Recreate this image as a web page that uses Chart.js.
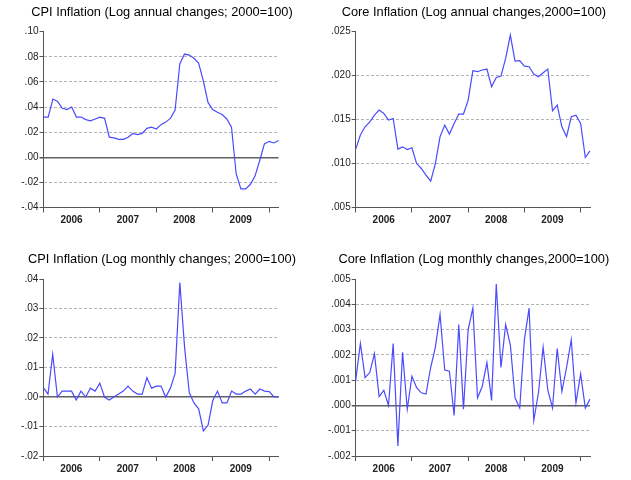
<!DOCTYPE html>
<html>
<head>
<meta charset="utf-8">
<script src="https://cdn.jsdelivr.net/npm/chart.js@4"></script>
<style>
  body { margin: 0; background: #fff; }
  #wrap { position: relative; width: 631px; height: 480px; overflow: hidden; }
  canvas { position: absolute; }
</style>
</head>
<body>
<div id="wrap">
  <canvas id="cpiAnnual" width="315" height="240" style="left:0;top:0"></canvas>
  <canvas id="coreAnnual" width="316" height="240" style="left:315px;top:0"></canvas>
  <canvas id="cpiMonthly" width="315" height="240" style="left:0;top:240px"></canvas>
  <canvas id="coreMonthly" width="316" height="240" style="left:315px;top:240px"></canvas>
</div>
<script>
// Monthly observations 2006M01 .. 2010M03
const months = [];
for (let y = 2006; y <= 2010; y++) {
    for (let m = 1; m <= 12; m++) {
        if (y === 2010 && m > 3) break;
        months.push(y + 'M' + String(m).padStart(2, '0'));
    }
}

// Series
const cpiAnnualValues = [
    0.032, 0.032, 0.0464, 0.0445, 0.039, 0.038, 0.040, 0.032, 0.032, 0.030, 0.029, 0.0305,
    0.032, 0.031, 0.016, 0.0154, 0.0143, 0.0143, 0.016, 0.019, 0.018, 0.019, 0.023, 0.024,
    0.0225, 0.026, 0.028, 0.031, 0.0376, 0.0743, 0.0822, 0.0814, 0.0788, 0.075, 0.061, 0.0437,
    0.038, 0.0358, 0.034, 0.0305, 0.0239, -0.0133, -0.0252, -0.0252, -0.0217, -0.015, -0.0026, 0.0106,
    0.0127, 0.0114, 0.0133
];
const coreAnnualValues = [
    0.01164, 0.01324, 0.01418, 0.01475, 0.01551, 0.01608, 0.0157, 0.01494, 0.01513, 0.01164, 0.0119, 0.0116,
    0.0118, 0.0100, 0.00944, 0.00868, 0.0080, 0.0100, 0.01305, 0.01437, 0.01335, 0.01456, 0.01563, 0.01563,
    0.01722, 0.02056, 0.02045, 0.02064, 0.02075, 0.01874, 0.0198, 0.01995, 0.02196, 0.02462, 0.02166, 0.0217,
    0.02109, 0.02102, 0.02018, 0.01988, 0.02033, 0.02075, 0.016, 0.01665, 0.01418, 0.01305, 0.01532, 0.01551,
    0.01456, 0.01069, 0.01145
];
const cpiMonthlyValues = [
    0.0032, 0.001, 0.0145, 0.0, 0.002, 0.002, 0.002, -0.001, 0.002, 0.0, 0.003, 0.002,
    0.0047, 0.0, -0.001, 0.0, 0.001, 0.002, 0.0037, 0.002, 0.001, 0.001, 0.0065, 0.003,
    0.0037, 0.0037, 0.0, 0.003, 0.008, 0.0388, 0.017, 0.0015, -0.002, -0.004, -0.0115, -0.0095,
    -0.0012, 0.002, -0.002, -0.002, 0.002, 0.001, 0.001, 0.002, 0.0027, 0.001, 0.0027, 0.002,
    0.0018, 0.0, 0.0
];
const coreMonthlyValues = [
    0.001, 0.00245, 0.0011, 0.0013, 0.00205, 0.00035, 0.0006, 0.0, 0.00245, -0.0016, 0.0021, -0.00015,
    0.00115, 0.0007, 0.0005, 0.00045, 0.0015, 0.0023, 0.0036, 0.0014, 0.00135, -0.0004, 0.0032, -0.00015,
    0.003, 0.00385, 0.0003, 0.00075, 0.0017, 0.0002, 0.0048, 0.0015, 0.0032, 0.0024, 0.0003, -0.0001,
    0.0026, 0.00385, -0.0006, 0.0005, 0.0023, 0.0006, -0.0001, 0.00225, 0.00055, 0.0015, 0.0026, 0.0001,
    0.00125, -0.0001, 0.00025
];

// Axis ticks
const cpiAnnualTicks = [-0.04, -0.02, 0, 0.02, 0.04, 0.06, 0.08, 0.10];
const coreAnnualTicks = [0.005, 0.010, 0.015, 0.020, 0.025];
const cpiMonthlyTicks = [-0.02, -0.01, 0, 0.01, 0.02, 0.03, 0.04];
const coreMonthlyTicks = [-0.002, -0.001, 0, 0.001, 0.002, 0.003, 0.004, 0.005];
const yearStarts = ['2006M01', '2007M01', '2008M01', '2009M01', '2010M01'];

const FONT = "'Liberation Sans', Arial, sans-serif";
const AXIS = '#555';

function fmt(v, dec) {
    return v.toFixed(dec).replace(/^(-?)0\./, '$1.');
}

// Title centred over the plot area (built-in title centres on the canvas)
const panelTitle = {
    id: 'panelTitle',
    afterDraw(chart, args, opts) {
        const { ctx, chartArea } = chart;
        ctx.save();
        ctx.font = "12.8px " + FONT;
        ctx.fillStyle = '#000';
        ctx.textAlign = 'center';
        ctx.textBaseline = 'middle';
        ctx.fillText(opts.text, (chartArea.left + chartArea.right) / 2 + 1, opts.y);
        ctx.restore();
    }
};

function makePanel(id, title, values, yTicks, dec, geo) {
    const lo = yTicks[0], hi = yTicks[yTicks.length - 1];
    new Chart(document.getElementById(id), {
        type: 'line',
        data: {
            labels: months,
            datasets: [{
                data: values,
                borderColor: '#4a4aff',
                borderWidth: 1.2,
                pointRadius: 0,
                tension: 0,
                fill: false
            }]
        },
        plugins: [panelTitle],
        options: {
            responsive: false,
            animation: false,
            layout: { padding: { left: 0, right: geo.right, top: geo.top, bottom: 0 } },
            plugins: {
                legend: { display: false },
                tooltip: { enabled: false },
                title: { display: false },
                panelTitle: { text: title, y: geo.titleY }
            },
            scales: {
                x: {
                    type: 'category',
                    offset: false,
                    afterFit: s => { s.height = geo.xHeight; },
                    afterBuildTicks: s => {
                        s.ticks = s.ticks.filter(t => yearStarts.includes(months[t.value]));
                    },
                    ticks: {
                        autoSkip: false,
                        maxRotation: 0,
                        labelOffset: 28,
                        padding: 2,
                        color: '#222',
                        font: { family: FONT, size: 10, weight: 'bold' },
                        callback: function (value) {
                            const lab = this.getLabelForValue(value);
                            return lab === '2010M01' ? '' : lab.slice(0, 4);
                        }
                    },
                    grid: { drawOnChartArea: false, drawTicks: true, tickLength: 5, tickColor: AXIS },
                    border: { color: AXIS, width: 1 }
                },
                y: {
                    min: lo,
                    max: hi,
                    afterFit: s => { s.width = geo.yWidth; },
                    afterBuildTicks: s => { s.ticks = yTicks.map(v => ({ value: v })); },
                    ticks: {
                        padding: 1,
                        color: '#222',
                        font: { family: FONT, size: 10 },
                        callback: v => fmt(v, dec)
                    },
                    grid: {
                        drawTicks: true,
                        tickLength: 4,
                        tickColor: AXIS,
                        tickBorderDash: [],
                        color: c => {
                            const v = c.tick ? c.tick.value : null;
                            if (v === lo || v === hi) return 'rgba(0,0,0,0)';
                            return Math.abs(v) < 1e-12 ? '#606060' : '#b4b4b4';
                        },
                        lineWidth: c => (c.tick && Math.abs(c.tick.value) < 1e-12 ? 1.5 : 1)
                    },
                    border: {
                        color: AXIS,
                        width: 1,
                        dash: c => (c.tick && Math.abs(c.tick.value) > 1e-12 ? [3, 2] : [])
                    }
                }
            }
        }
    });
}

makePanel('cpiAnnual', 'CPI Inflation (Log annual changes; 2000=100)', cpiAnnualValues, cpiAnnualTicks, 2,
    { yWidth: 43.5, right: 36.5, top: 31.7, xHeight: 32.5, titleY: 12.5 });
makePanel('coreAnnual', 'Core Inflation (Log annual changes,2000=100)', coreAnnualValues, coreAnnualTicks, 3,
    { yWidth: 40.7, right: 41, top: 31.7, xHeight: 32.5, titleY: 12.5 });
makePanel('cpiMonthly', 'CPI Inflation (Log monthly changes; 2000=100)', cpiMonthlyValues, cpiMonthlyTicks, 2,
    { yWidth: 43.3, right: 36.3, top: 39, xHeight: 24, titleY: 19.7 });
makePanel('coreMonthly', 'Core Inflation (Log monthly changes,2000=100)', coreMonthlyValues, coreMonthlyTicks, 3,
    { yWidth: 40.7, right: 41, top: 39, xHeight: 24, titleY: 19.7 });
</script>
</body>
</html>
